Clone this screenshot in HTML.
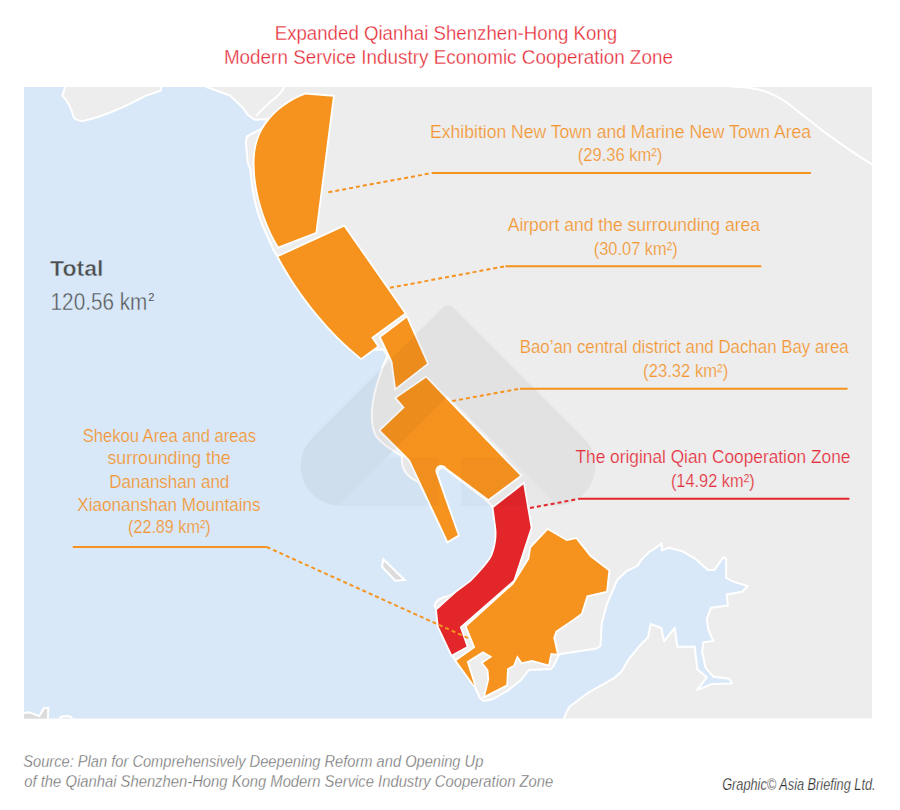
<!DOCTYPE html>
<html><head><meta charset="utf-8">
<style>
html,body{margin:0;padding:0;background:#fff;width:900px;height:810px;overflow:hidden}
svg{position:absolute;left:0;top:0;display:block}
text{font-family:"Liberation Sans",sans-serif}
</style></head><body>
<svg width="900" height="810" viewBox="0 0 900 810">
<rect x="0" y="0" width="900" height="810" fill="#fff"/>
<!-- title -->
<g fill="#e52b36" font-size="20" stroke="#fff" stroke-width="0.3">
<text x="274.7" y="40" textLength="342.5" lengthAdjust="spacingAndGlyphs">Expanded Qianhai Shenzhen-Hong Kong</text>
<text x="223.9" y="64" textLength="449" lengthAdjust="spacingAndGlyphs">Modern Service Industry Economic Cooperation Zone</text>
</g>
<!-- map -->
<defs><clipPath id="mc"><rect x="24" y="86.9" width="848" height="631.7"/></clipPath></defs>
<g clip-path="url(#mc)">
<rect x="24" y="86.9" width="848" height="631.7" fill="#ededed"/>
<path id="water" fill="#d9e8f8" stroke="#fff" stroke-width="2" stroke-linejoin="round" d="M20,82 L66,82 L65.2,87 L62.3,95.6 Q70,103 73.8,117.5 Q77,121.5 84,120.8 Q110,115 145.3,95.9 L160.5,90.8 L161.2,87 L161.5,82 L206,82 L206.7,87 L230,95.5 L242.9,107.9 L247.8,114.8 L254.8,119.8 L268,119 L262,128.5 L246.9,136.5 L245.9,142.5 L247.8,163.2 L250.3,169.2 C251.5,185 254.5,205 261.5,223 L273.5,250 L278,257 C300,297 330,333 361.1,357.9 L371,350 L383.3,349.3 L387.5,356 C383,365 378,380 374.6,393 C371,410 370,425 376,436 C383,446 396,452 402,456 C401,466 404,476 418.8,482 L447,540 L457,535 L437.5,474 C438,467 443,466 447,470 L486,500 L493.5,507.8 L496,526.7 Q498,545 492.2,555.6 Q485,568 470.9,581.6 L456.2,592.6 L449,596 Q436,598 434.5,606 L437,611 L438.7,626.4 L451.9,654.4 L455.8,661.4 L474.4,685.5 L479.9,698 L483.8,701 L493.1,699 L507.1,691 L521.1,680 L528.9,670 L551.1,668.9 L553.6,665.8 L558.5,655.3 L560.4,654.1 L596.8,648.5 L600.5,645.4 L601.7,623.2 L606.7,604.7 L617.2,580 L626.7,571.1 L637.8,565.6 L641.1,560 L648.9,552.2 L654.4,548.9 L661.8,543.3 L661.8,550.4 L668.9,547.8 L682.2,551.1 L695.6,558.9 L707.8,570 L714.4,570 L723.3,557.1 L726.2,558.9 L726.2,577.8 L733.3,581.6 L747.8,586 L742.2,591.8 L726.7,594.4 L727.8,605.6 L711.1,607.8 L706.7,618.9 L708.4,630 L713.3,641.1 L703.3,642.2 L702.2,652.2 L705.6,667.8 L713.3,676.7 L729.3,678.7 L732,683.5 L712,684 L697.3,689.9 L706.7,677.3 L697.3,669.3 L694.7,646.7 L677.3,646.7 L674.7,628 L664,641.3 L661.3,628 L650.7,624 L648,637.3 L640,645.4 L628.9,659 L621.5,671.4 L613.3,678.7 L589.3,692 L569.3,706.7 L564,718 L562,723 L20,723 Z"/>
<!-- river top -->
<path d="M285,82 L284.1,87 C282,92 279,95 274,99 C266,105 262,110 256,115.6" fill="none" stroke="#fff" stroke-width="2"/>
<!-- road top right -->
<path d="M730,86.5 L740,87 C760,88 775,93 790,105 C815,125 840,145 872,164.4 L882,170" fill="none" stroke="#fff" stroke-width="2"/>
<!-- islands -->
<path d="M383.3,559.3 L404.7,580 L395.3,580.7 L382,566.7 Z" fill="#dcdcdc" stroke="#fff" stroke-width="2"/>
<ellipse cx="66" cy="718.5" rx="6" ry="2.5" fill="#ededed" stroke="#fff" stroke-width="2"/>
<path d="M20,713.5 L28.9,712.2 L39.4,716.1 L43.9,708.3 L48.3,707.8 L47.8,723 L20,723 Z" fill="#dcdcdc" stroke="#fff" stroke-width="2"/>
</g>
<!-- zones -->
<g stroke="#fff" stroke-width="3.6" stroke-linejoin="miter" paint-order="stroke">
<path fill="#f6931e" d="M305.5,94.4 L332.9,96.7 L315.5,232.2 L278.5,246.5 C266,226 255,195 254.5,165 C254.3,148 258,135 266,124 C276,110 290,100 305.5,94.4 Z"/>
<path fill="#f6931e" d="M278.5,256.8 L344,226.7 L404.4,313.3 L371.2,337.6 L377.2,346.2 L361.1,357.9 C330,333 300,297 278.5,256.8 Z"/>
<path fill="#f6931e" d="M380.9,337.3 L406.7,317.8 L427,363.5 L395.9,387.7 L392.4,361.5 Z"/>
<path fill="#f6931e" d="M426.1,377.8 L520,475.6 L488.4,498.9 L446.6,467.9 C443,463.5 436,464 435.3,471.5 L457.8,535.1 L447.8,541.1 L410,460 L380.6,430.5 L404.7,407.5 L396.6,398 Z"/>
<path fill="#e3262a" d="M523.3,484.4 L530.7,527.8 L513.5,580.2 L459.8,627 L466.6,646.5 L451.9,654.4 L438.7,626.4 L436.9,610 L456.2,592.6 L470.9,581.6 Q489,563 492.2,555.6 Q498,540 496,526.7 L493.5,507.8 Z"/>
<path fill="#f6931e" d="M547.8,530 L566.7,541.1 L576,538.9 L590,556.7 L608.4,570.7 L606.2,591.1 L586.7,595.6 L581.1,613.3 L573.3,618.9 L555.6,631.1 L553.3,637.8 L556.9,653.7 L550.6,652.9 L548.3,664.5 L532,659.9 L521.9,662.2 L517.2,655.2 L513.3,665.3 L507.1,668.4 L506.3,684.8 L485.3,695.6 L489.2,679.3 L488.4,670 L483,663 L492.3,656.8 L483,651.3 L466.7,661.4 L474.4,685.5 L456.5,660.7 L475.2,647.4 L466.7,626.4 L513.3,584.4 L529.3,558.9 L531.1,547.8 Z"/>
</g>
<!-- watermark -->
<path fill="#000" fill-opacity="0.045" fill-rule="evenodd" d="M442.3,307.7 A8,8 0 0 1 453.7,307.7 L583.7,437.7 A40,40 0 0 1 555.4,506 L340.6,506 A40,40 0 0 1 312.3,437.7 Z M448,396 L338,506 L558,506 Z"/>
<path fill="#000" fill-opacity="0.022" d="M386.4,457.6 L438.5,457.6 L438.5,506 L338,506 Z M460.9,457.6 L509.6,457.6 L558,506 L460.9,506 Z"/>
<!-- leader lines -->
<g fill="none" stroke-width="2">
<path d="M328.4,192.2 L432,173" stroke="#f6931e" stroke-dasharray="4,3"/>
<path d="M432,173 L811,173" stroke="#f6931e"/>
<path d="M390,287.8 L505.5,266.2" stroke="#f6931e" stroke-dasharray="4,3"/>
<path d="M505.5,266.2 L761.3,266.2" stroke="#f6931e"/>
<path d="M452.2,401.1 L520,388.7" stroke="#f6931e" stroke-dasharray="4,3"/>
<path d="M520,388.7 L847.5,388.7" stroke="#f6931e"/>
<path d="M530,508 L580,498.7" stroke="#e3262a" stroke-dasharray="4,3"/>
<path d="M580,498.7 L849.4,498.7" stroke="#e3262a"/>
<path d="M72.8,547 L266.7,547" stroke="#f6931e"/>
<path d="M266.7,547 L468.2,638.1" stroke="#f6931e" stroke-dasharray="4,3"/>
</g>
<!-- labels -->
<g fill="#f39530" font-size="18.5" stroke="#f0f0f0" stroke-width="0.22">
<text x="430.1" y="137.5" textLength="381" lengthAdjust="spacingAndGlyphs">Exhibition New Town and Marine New Town Area</text>
<text x="577.8" y="161" textLength="84.4" lengthAdjust="spacingAndGlyphs">(29.36 km²)</text>
<text x="507.7" y="231.4" textLength="252.3" lengthAdjust="spacingAndGlyphs">Airport and the surrounding area</text>
<text x="593.8" y="255.4" textLength="83.8" lengthAdjust="spacingAndGlyphs">(30.07 km²)</text>
<text x="519.7" y="353" textLength="329" lengthAdjust="spacingAndGlyphs">Bao’an central district and Dachan Bay area</text>
<text x="643.1" y="376.8" textLength="85.1" lengthAdjust="spacingAndGlyphs">(23.32 km²)</text>
</g>
<g fill="#f39530" font-size="18.5" stroke="#d9e8f8" stroke-width="0.22">
<text x="82.7" y="441.7" textLength="173.3" lengthAdjust="spacingAndGlyphs">Shekou Area and areas</text>
<text x="107.5" y="464.3" textLength="123.2" lengthAdjust="spacingAndGlyphs">surrounding the</text>
<text x="109.3" y="487.5" textLength="120" lengthAdjust="spacingAndGlyphs">Dananshan and</text>
<text x="77.3" y="510.5" textLength="183.2" lengthAdjust="spacingAndGlyphs">Xiaonanshan Mountains</text>
<text x="128" y="533.3" textLength="82.7" lengthAdjust="spacingAndGlyphs">(22.89 km²)</text>
</g>
<g fill="#e4303d" font-size="18.5" stroke="#f0f0f0" stroke-width="0.22">
<text x="575.5" y="463.2" textLength="274.9" lengthAdjust="spacingAndGlyphs">The original Qian Cooperation Zone</text>
<text x="670.9" y="486.8" textLength="83.7" lengthAdjust="spacingAndGlyphs">(14.92 km²)</text>
</g>
<text x="50.1" y="276.4" font-size="22.2" font-weight="bold" fill="#4d4d4d" stroke="#d9e8f8" stroke-width="0.5" textLength="53.4" lengthAdjust="spacingAndGlyphs">Total</text>
<text x="50.6" y="310" font-size="23" fill="#555" stroke="#d9e8f8" stroke-width="0.4" textLength="96.7" lengthAdjust="spacingAndGlyphs">120.56 km</text>
<text x="148.2" y="300.6" font-size="11.5" fill="#555" textLength="6.2" lengthAdjust="spacingAndGlyphs">2</text>
<!-- source -->
<g fill="#6f6f6f" font-size="16" font-style="italic" stroke="#fff" stroke-width="0.3">
<text x="23.3" y="766.7" textLength="460" lengthAdjust="spacingAndGlyphs">Source: Plan for Comprehensively Deepening Reform and Opening Up</text>
<text x="24.3" y="787.2" textLength="529" lengthAdjust="spacingAndGlyphs">of the Qianhai Shenzhen-Hong Kong Modern Service Industry Cooperation Zone</text>
</g>
<text x="722.2" y="789.6" font-size="16" font-style="italic" fill="#2a2a2a" stroke="#fff" stroke-width="0.25" textLength="153.4" lengthAdjust="spacingAndGlyphs">Graphic© Asia Briefing Ltd.</text>
</svg>
</body></html>
